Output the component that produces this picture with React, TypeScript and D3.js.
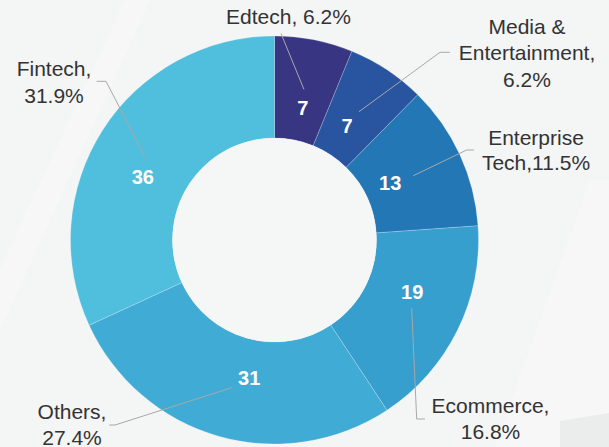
import React from "react";
import * as d3 from "d3";

// ---------- data ----------
const categories = ["Edtech", "Media & Entertainment", "Enterprise Tech", "Ecommerce", "Others", "Fintech"];
const values = [7, 7, 13, 19, 31, 36];
const labelLines = [
  ["Edtech, 6.2%"],
  ["Media &", "Entertainment,", "6.2%"],
  ["Enterprise", "Tech,11.5%"],
  ["Ecommerce,", "16.8%"],
  ["Others,", "27.4%"],
  ["Fintech,", "31.9%"],
];
const colors = ["#383682", "#2854a0", "#2477b5", "#369fce", "#40acd5", "#50bedd"];

// ---------- layout ----------
const W = 609;
const H = 447;
const CX = 274.5;
const CY = 240;
const R_OUT = 204;
const R_IN = 102;
// value-label placement: [angle offset from slice mid (deg), radius]
const valueLabelPlacement = [
  [1.0, 135],
  [-1.0, 135],
  [-1.6, 129],
  [-5.8, 147],
  [-5.5, 140],
  [-7.1, 146],
];
// outside label text anchors: [centre x, first baseline, line height]
const outerLabelPos = [
  [288.5, 24, 26],
  [527, 33.5, 26.6],
  [536, 145, 25],
  [490.5, 413, 26],
  [72, 419, 26],
  [54, 75.7, 27.5],
];
const leaderLines: [number, number][][] = [
  [[281, 33.5], [304, 89.5]],
  [[359, 111.7], [440, 52.3], [450, 52.3]],
  [[413.3, 175.7], [466.7, 150], [474, 150]],
  [[411.7, 308.3], [416.7, 419], [425, 419]],
  [[232.3, 387.5], [115, 425], [109.3, 425]],
  [[145, 156.7], [106, 81.3], [96.7, 81.3]],
];

export default function App() {
  const pie = d3
    .pie<number>()
    .sort(null)
    .value((d) => d)
    .startAngle(0)
    .endAngle(2 * Math.PI);
  const arcs = pie(values);
  const arcGen = d3.arc<d3.PieArcDatum<number>>().innerRadius(R_IN).outerRadius(R_OUT);
  const line = d3.line<[number, number]>();

  return (
    <svg
      width={W}
      height={H}
      viewBox={`0 0 ${W} ${H}`}
      style={{ position: "absolute", left: 0, top: 0, display: "block" }}
      fontFamily="'Liberation Sans', Arial, sans-serif"
    >
      <rect x={0} y={0} width={W} height={H} fill="#f4f5f5" />
      {/* subtle diagonal light bands */}
      <path d="M 125 0 L 150 0 L 0 330 L 0 270 Z" fill="#f8f8f8" opacity={0.7} />
      <path d="M 590 180 L 609 180 L 609 447 L 495 447 Z" fill="#f7f8f8" opacity={0.8} />
      {/* bottom-right corner patch */}
      <path d="M 560 421 Q 585 417 609 413 L 609 447 L 560 447 Z" fill="#ebecec" />

      <g transform={`translate(${CX},${CY})`}>
        {arcs.map((a, i) => (
          <path
            key={categories[i]}
            d={arcGen(a) || ""}
            fill={colors[i]}
            stroke="rgba(255,255,255,0.35)"
            strokeWidth={0.6}
          />
        ))}
        <circle r={R_IN} fill="#f5f6f6" />
        {arcs.map((a, i) => {
          const mid = (a.startAngle + a.endAngle) / 2 + (valueLabelPlacement[i][0] * Math.PI) / 180;
          const rr = valueLabelPlacement[i][1];
          return (
            <text
              key={"v" + i}
              x={rr * Math.sin(mid)}
              y={-rr * Math.cos(mid)}
              dy="0.36em"
              textAnchor="middle"
              fill="#ffffff"
              fontWeight="bold"
              fontSize={20}
            >
              {a.data}
            </text>
          );
        })}
      </g>

      {leaderLines.map((pts, i) => (
        <path key={"l" + i} d={line(pts) || ""} fill="none" stroke="#a8a8a8" strokeWidth={1} />
      ))}

      {labelLines.map((lines, i) => (
        <text
          key={"t" + i}
          textAnchor="middle"
          fill="#333333"
          fontSize={21}
        >
          {lines.map((t, j) => (
            <tspan key={j} x={outerLabelPos[i][0]} y={outerLabelPos[i][1] + j * outerLabelPos[i][2]}>
              {t}
            </tspan>
          ))}
        </text>
      ))}
    </svg>
  );
}
